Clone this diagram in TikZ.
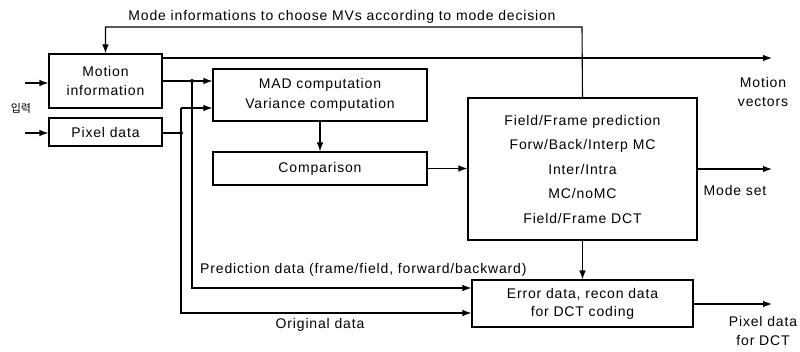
\documentclass[tikz,border=0pt]{standalone}
\usepackage{fontspec}
\setmainfont{Liberation Sans}[LetterSpace=6]
\newfontfamily\krfont{Noto Sans CJK KR}
\usetikzlibrary{arrows.meta}

\tikzset{
	box/.style={draw, line width=1.1pt, align=center, inner sep=0pt},
	linie/.style={line width=1.1pt},
	pfeil/.style={linie, -{Latex[length=9pt,width=6.5pt]}},
	lbl/.style={inner sep=0pt, align=center},
}

\begin{document}
\begin{tikzpicture}[x=1pt, y=-1pt, font=\fontsize{14}{19.5}\selectfont]
		\useasboundingbox (0,0) rectangle (800,351);
		
		%Kaesten
		\node[box, minimum width=113pt, minimum height=54pt] (motion) at (105.5,81) {Motion\\information};
		\node[box, minimum width=113pt, minimum height=28pt] (pixel) at (105.5,132) {Pixel data};
		\node[box, minimum width=214pt, minimum height=52pt] (mad) at (320,95) {MAD computation\\Variance computation};
		\node[box, minimum width=214pt, minimum height=33pt] (comp) at (320,168.5) {Comparison};
		\node[box, minimum width=229pt, minimum height=142pt, font=\fontsize{14}{24.5}\selectfont] (mode) at (582.5,169)
			{Field/Frame prediction\\Forw/Back/Interp MC\\Inter/Intra\\MC/noMC\\Field/Frame DCT};
		\node[box, minimum width=221pt, minimum height=47pt, font=\fontsize{14}{18}\selectfont] (err) at (582.5,303.5)
			{Error data, recon data\\for DCT coding};
		
		%Eingang
		\coordinate (in1) at (25,83);
		\coordinate (in2) at (25,133);
		\draw[pfeil] (in1) -- (in1 -| motion.west);
		\draw[pfeil] (in2) -- (in2 -| pixel.west);
		\node[lbl, font=\krfont\fontsize{11}{11}\selectfont] (input) at (21,108) {입력};
		
		%Verzweigungen
		\coordinate (j1) at (192,81);
		\coordinate (j2) at (181,133);
		\coordinate (p1) at (192,288);
		\coordinate (p2) at (181,313);
		\coordinate (m1) at (181,108);
		\draw[pfeil] (motion.east) -- (motion.east -| mad.west);
		\draw[linie] (pixel.east |- j2) -- (j2);
		\draw[pfeil] (j1) -- (p1) -- (p1 -| err.west);
		\draw[pfeil] (m1) -- (m1 -| mad.west);
		\draw[pfeil] (m1) -- (p2) -- (p2 -| err.west);
		\fill (j1) circle (2pt);
		\fill (j2) circle (2pt);
		
		%Ausgaenge
		\coordinate (o1) at (772,58);
		\coordinate (o2) at (772,169);
		\coordinate (o3) at (772,304);
		\draw[pfeil] (motion.east |- o1) -- (o1);
		\draw[pfeil] (mode.east |- o2) -- (o2);
		\draw[pfeil] (err.east |- o3) -- (o3);
		\node[lbl] (mv) at (763,92) {Motion\\vectors};
		\node[lbl] (ms) at (735,190) {Mode set};
		\node[lbl, font=\fontsize{14}{19}\selectfont] (pd) at (763,331) {Pixel data\\for DCT};
		
		%Rueckfuehrung
		\coordinate (r1) at (582,27);
		\draw[pfeil] (mode.north) -- (r1) -- (r1 -| motion.north) -- (motion.north);
		\node[lbl] (fb) at (342,17) {Mode informations to choose MVs according to mode decision};
		
		\draw[pfeil] (mad.south) -- (comp.north);
		\draw[pfeil] (comp.east) -- (comp.east -| mode.west);
		\draw[pfeil] (mode.south) -- (err.north);
		
		\node[lbl, anchor=west] (pred) at (200,270) {Prediction data (frame/field, forward/backward)};
		\node[lbl] (orig) at (320,325) {Original data};
	\end{tikzpicture}
\end{document}
